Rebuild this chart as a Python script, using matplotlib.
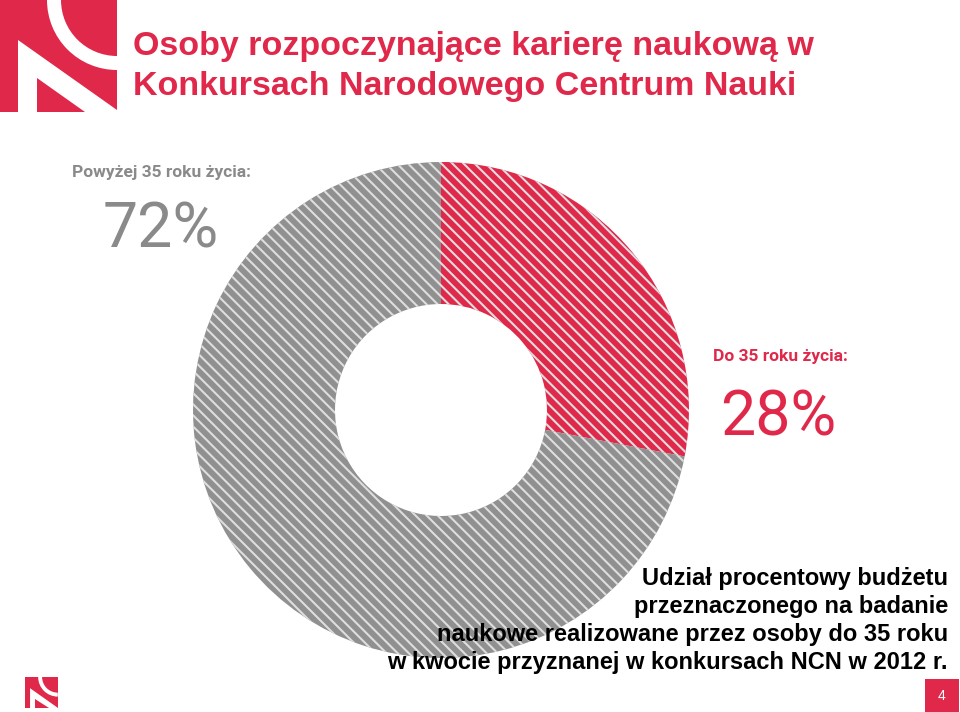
import matplotlib
matplotlib.use("Agg")
import matplotlib.pyplot as plt
from matplotlib.patches import Polygon, Rectangle, Wedge

# dane
labels = ["Do 35 roku życia:", "Powyżej 35 roku życia:"]
values = [28, 72]
pct_texts = ["28%", "72%"]
title_lines = ["Osoby rozpoczynające karierę naukową w",
               "Konkursach Narodowego Centrum Nauki"]
note_lines = ["Udział procentowy budżetu",
              "przeznaczonego na badanie",
              "naukowe realizowane przez osoby do 35 roku",
              "w kwocie przyznanej w konkursach NCN w 2012 r."]
page_no = "4"

RED = "#e0284a"
GRAY = "#909090"
TXT_GRAY = "#8a8a8a"

W, H = 960, 712
fig = plt.figure(figsize=(W / 100, H / 100), dpi=100)

# wykres pierścieniowy
cx, cy, r, r_in = 441, 410, 248, 106
pax = fig.add_axes([(cx - r) / W, (H - cy - r) / H, 2 * r / W, 2 * r / H])
plt.rcParams["hatch.linewidth"] = 1.5
wedges, _ = pax.pie(values, colors=[RED, GRAY], startangle=90, counterclock=False,
                    radius=1, wedgeprops=dict(width=1 - r_in / r, linewidth=0.0))
for w in wedges:
    w.set_hatch("\\\\\\")
    w.set_edgecolor("#dedede")
pax.set_xlim(-1, 1)
pax.set_ylim(-1, 1)
pax.axis("off")

bg = fig.add_axes([0, 0, 1, 1])
bg.set_xlim(0, W)
bg.set_ylim(H, 0)
bg.axis("off")


def logo(ax, x0, y0, s):
    # uproszczone logo NCN
    ax.add_patch(Rectangle((x0, y0), 117 * s, 112 * s, color=RED, lw=0))
    ax.add_patch(Wedge((x0 + 117 * s, y0), 70 * s, 90, 180, width=14 * s,
                       color="white", lw=0))
    ax.add_patch(Polygon([(x0 + 18 * s, y0 + 40 * s), (x0 + 117 * s, y0 + 110 * s),
                          (x0 + 117 * s, y0 + 112 * s), (x0 + 18 * s, y0 + 112 * s)],
                         color="white", lw=0))
    ax.add_patch(Polygon([(x0 + 37 * s, y0 + 78 * s), (x0 + 37 * s, y0 + 112 * s),
                          (x0 + 85 * s, y0 + 112 * s)], color=RED, lw=0))


logo(bg, 0, 0, 1.0)
logo(bg, 25, 677, 0.28)

for i, t in enumerate(title_lines):
    bg.text(133, 46 + i * 40, t, color=RED, fontsize=24.5, fontweight="bold",
            family="Liberation Sans", va="center", ha="left")

for i, t in enumerate(note_lines):
    bg.text(948, 579 + i * 28, t, color="black", fontsize=17, fontweight="bold",
            family="Liberation Sans", va="center", ha="right")

# etykiety
bg.text(72, 173, labels[1], color=TXT_GRAY, fontsize=12.5, fontweight="bold",
        family="Roboto", va="center", ha="left")
bg.text(103, 231, pct_texts[1], color=TXT_GRAY, fontsize=45,
        family="Roboto", va="center", ha="left")
bg.text(713, 356, labels[0], color=RED, fontsize=12.5, fontweight="bold",
        family="Roboto", va="center", ha="left")
bg.text(720, 418, pct_texts[0], color=RED, fontsize=45,
        family="Roboto", va="center", ha="left")

# numer strony
bg.add_patch(Rectangle((925, 679), 34, 33, color=RED, lw=0))
bg.text(942, 696, page_no, color="white", fontsize=10, family="Liberation Sans",
        ha="center", va="center")

fig.savefig("out.png", dpi=100)
